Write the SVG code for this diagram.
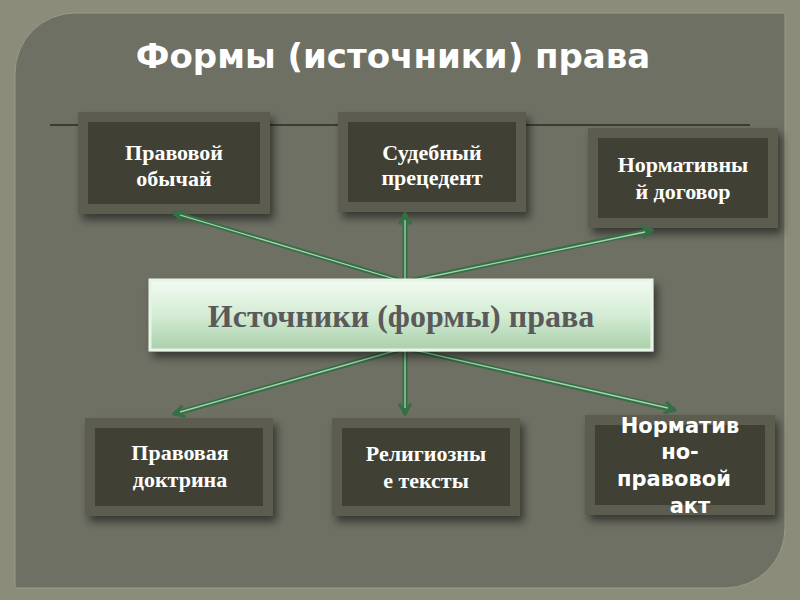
<svg xmlns="http://www.w3.org/2000/svg" width="800" height="600" viewBox="0 0 800 600">
<defs>
<linearGradient id="cg" x1="0" y1="0" x2="0" y2="1"><stop offset="0" stop-color="#f2fbf2"/><stop offset="0.5" stop-color="#d4ecd4"/><stop offset="1" stop-color="#a9d0aa"/></linearGradient>
<marker id="ah" viewBox="0 0 12 12" refX="10" refY="6" markerWidth="14" markerHeight="14" orient="auto" markerUnits="userSpaceOnUse"><path d="M1,1 L10,6 L1,11" fill="none" stroke="#356f45" stroke-width="2.5"/></marker>
<filter id="sh" x="-20%" y="-20%" width="150%" height="160%"><feDropShadow dx="4" dy="6" stdDeviation="4" flood-color="#000" flood-opacity="0.5"/></filter>
</defs>
<style>
.box{fill:#3f4035;stroke:#5c5d50;stroke-width:10;filter:url(#sh)}
.t{font-family:"Liberation Serif",serif;font-weight:bold;font-size:22px;fill:#fff;text-anchor:middle}
.ts{font-family:"DejaVu Sans",sans-serif;font-weight:bold;font-size:21px;fill:#fff;text-anchor:middle}
.c{stroke:#356f45;stroke-width:5;fill:none}
.ci{stroke:#a8d4ac;stroke-width:1.3;fill:none}
</style>
<rect width="800" height="600" fill="#8b8c7a"/>
<path d="M75,13 H785 V528 A60,60 0 0 1 725,588 H15 V73 A60,60 0 0 1 75,13 Z" fill="#6f7064" stroke="#9a9b88" stroke-width="1"/>
<text x="393" y="68" font-family="DejaVu Sans,sans-serif" font-weight="bold" font-size="34" fill="#fff" text-anchor="middle">Формы (источники) права</text>
<line x1="50" y1="125" x2="750" y2="125" stroke="#2a2b24" stroke-width="1.5"/>
<g id="n1"><rect class="box" x="83" y="117" width="182" height="92"/><text class="t" x="174" y="160">Правовой</text><text class="t" x="174" y="186">обычай</text></g>
<g id="n2"><rect class="box" x="343" y="117" width="178" height="90"/><text class="t" x="432" y="160">Судебный</text><text class="t" x="432" y="185">прецедент</text></g>
<g id="n3"><rect class="box" x="593" y="133" width="180" height="90"/><text class="t" x="683" y="172">Нормативны</text><text class="t" x="683" y="199">й договор</text></g>
<g id="n4"><rect class="box" x="90" y="423" width="178" height="88"/><text class="t" x="180" y="460">Правовая</text><text class="t" x="180" y="487">доктрина</text></g>
<g id="n5"><rect class="box" x="337" y="423" width="178" height="88"/><text class="t" x="426" y="461">Религиозны</text><text class="t" x="426" y="488">е тексты</text></g>
<g id="n6"><rect class="box" x="590" y="420" width="180" height="90"/><text class="ts" x="680" y="433">Норматив</text><text class="ts" x="680" y="459">но-</text><text class="ts" x="674" y="486">правовой</text><text class="ts" x="690" y="513">акт</text></g>
<g id="connectors">
<line class="c" marker-end="url(#ah)" x1="405" y1="282" x2="174" y2="213"/>
<line class="c" marker-end="url(#ah)" x1="405" y1="282" x2="405" y2="214"/>
<line class="c" marker-end="url(#ah)" x1="405" y1="282" x2="652" y2="230"/>
<line class="c" marker-end="url(#ah)" x1="405" y1="348" x2="174" y2="414"/>
<line class="c" marker-end="url(#ah)" x1="405" y1="348" x2="405" y2="414"/>
<line class="c" marker-end="url(#ah)" x1="405" y1="348" x2="675" y2="410"/>
<line class="ci" x1="405" y1="282" x2="180" y2="215"/>
<line class="ci" x1="405" y1="282" x2="405" y2="220"/>
<line class="ci" x1="405" y1="282" x2="645" y2="232"/>
<line class="ci" x1="405" y1="348" x2="180" y2="412"/>
<line class="ci" x1="405" y1="348" x2="405" y2="408"/>
<line class="ci" x1="405" y1="348" x2="668" y2="408"/>
</g>
<g id="center"><rect x="150" y="280" width="502" height="70" fill="url(#cg)" stroke="#e8f4e8" stroke-width="3" filter="url(#sh)"/><text x="401" y="327" font-family="Liberation Serif,serif" font-weight="bold" font-size="32" fill="#5a5a5a" text-anchor="middle">Источники (формы) права</text></g>
</svg>
